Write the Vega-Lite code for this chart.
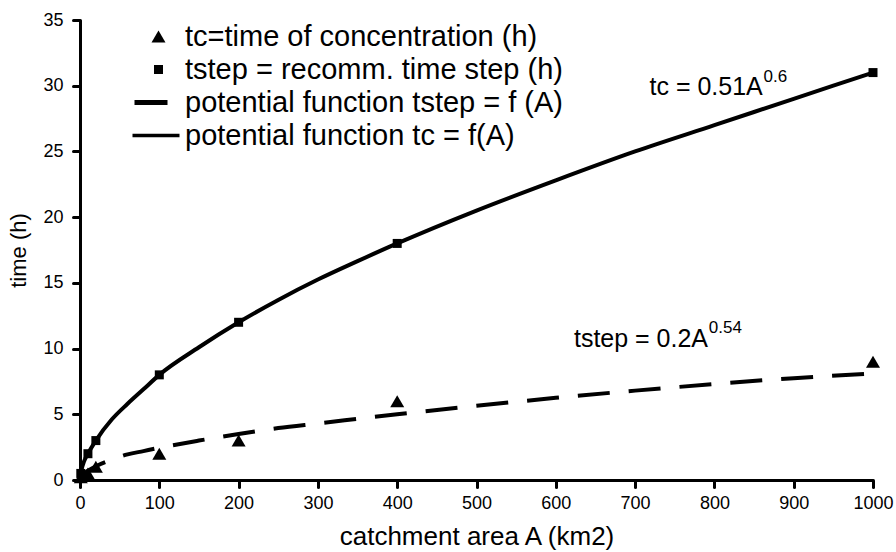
{
  "$schema": "https://vega.github.io/schema/vega-lite/v6.json",
  "width": 793,
  "height": 460,
  "autosize": {"type": "none"},
  "padding": {"left": 80, "top": 20, "right": 23, "bottom": 72},
  "background": "white",
  "config": {
    "font": "Liberation Sans",
    "view": {"stroke": null},
    "axis": {
      "domainColor": "black",
      "domainWidth": 3,
      "tickColor": "black",
      "tickWidth": 3,
      "tickSize": 7,
      "tickCap": "round",
      "labelColor": "black",
      "labelFont": "Liberation Sans",
      "labelFontSize": 18,
      "titleColor": "black",
      "titleFont": "Liberation Sans",
      "titleFontWeight": "normal",
      "grid": false
    },
    "legend": {
      "orient": "none",
      "legendX": 64,
      "legendY": 2,
      "padding": 0,
      "symbolSize": 400,
      "symbolStrokeWidth": 0,
      "symbolFillColor": "black",
      "labelFont": "Liberation Sans",
      "labelFontSize": 29,
      "labelColor": "black",
      "labelOffset": 12,
      "rowPadding": 3,
      "labelLimit": 0
    }
  },
  "datasets": {
    "obs": [
      {"A": 1, "t": 0.2, "series": "tc=time of concentration (h)"},
      {"A": 10, "t": 0.5, "series": "tc=time of concentration (h)"},
      {"A": 20, "t": 1, "series": "tc=time of concentration (h)"},
      {"A": 100, "t": 2, "series": "tc=time of concentration (h)"},
      {"A": 200, "t": 3, "series": "tc=time of concentration (h)"},
      {"A": 400, "t": 6, "series": "tc=time of concentration (h)"},
      {"A": 1000, "t": 9, "series": "tc=time of concentration (h)"},
      {"A": 1, "t": 0.5, "series": "tstep = recomm. time step (h)"},
      {"A": 10, "t": 2, "series": "tstep = recomm. time step (h)"},
      {"A": 20, "t": 3, "series": "tstep = recomm. time step (h)"},
      {"A": 100, "t": 8, "series": "tstep = recomm. time step (h)"},
      {"A": 200, "t": 12, "series": "tstep = recomm. time step (h)"},
      {"A": 400, "t": 18, "series": "tstep = recomm. time step (h)"},
      {"A": 1000, "t": 31, "series": "tstep = recomm. time step (h)"}
    ],
    "upper": [
      {"A": 0, "t": 0}, {"A": 1, "t": 0.5}, {"A": 2, "t": 0.8}, {"A": 5, "t": 1.4},
      {"A": 10, "t": 2.0}, {"A": 20, "t": 3.0}, {"A": 40, "t": 4.6}, {"A": 60, "t": 5.8},
      {"A": 80, "t": 6.9}, {"A": 100, "t": 8.0}, {"A": 150, "t": 10.1}, {"A": 200, "t": 12.0},
      {"A": 250, "t": 13.7}, {"A": 300, "t": 15.25}, {"A": 350, "t": 16.65}, {"A": 400, "t": 18.0},
      {"A": 500, "t": 20.5}, {"A": 600, "t": 22.8}, {"A": 700, "t": 25.0}, {"A": 800, "t": 27.0},
      {"A": 900, "t": 29.0}, {"A": 1000, "t": 31.0}
    ],
    "lower": [
      {"A": 0, "t": 0}, {"A": 1, "t": 0.2}, {"A": 5, "t": 0.5}, {"A": 10, "t": 0.7},
      {"A": 20, "t": 1.05}, {"A": 40, "t": 1.55}, {"A": 60, "t": 1.95}, {"A": 80, "t": 2.2},
      {"A": 100, "t": 2.45}, {"A": 150, "t": 3.0}, {"A": 200, "t": 3.5}, {"A": 250, "t": 3.95},
      {"A": 300, "t": 4.3}, {"A": 400, "t": 5.0}, {"A": 500, "t": 5.65}, {"A": 600, "t": 6.25},
      {"A": 700, "t": 6.8}, {"A": 800, "t": 7.3}, {"A": 900, "t": 7.75}, {"A": 1000, "t": 8.1}
    ],
    "eqMain": [
      {"A": 861, "t": 29.3, "label": "tc = 0.51A"},
      {"A": 792, "t": 10.1, "label": "tstep = 0.2A"}
    ],
    "eqExp": [
      {"A": 862, "t": 30.3, "label": "0.6"},
      {"A": 793, "t": 11.2, "label": "0.54"}
    ]
  },
  "encoding": {
    "x": {
      "field": "A", "type": "quantitative",
      "scale": {"domain": [0, 1000], "nice": false, "zero": false},
      "axis": {"values": [0,100,200,300,400,500,600,700,800,900,1000], "format": "d", "title": "catchment area A (km2)", "titleFontSize": 26, "labelPadding": 7, "titlePadding": 11, "labelFlush": false}
    },
    "y": {
      "field": "t", "type": "quantitative",
      "scale": {"domain": [0, 35], "nice": false},
      "axis": {"values": [0,5,10,15,20,25,30,35], "title": "time (h)", "titleFontSize": 22, "labelPadding": 10, "titlePadding": 12}
    }
  },
  "layer": [
    {
      "data": {"name": "lower"},
      "mark": {"type": "line", "color": "black", "strokeWidth": 4, "strokeDash": [32, 19], "interpolate": "monotone"}
    },
    {
      "data": {"name": "upper"},
      "mark": {"type": "line", "color": "black", "strokeWidth": 4, "interpolate": "monotone"}
    },
    {
      "data": {"name": "obs"},
      "mark": {"type": "point", "filled": true, "color": "black", "opacity": 1, "size": 400, "strokeWidth": 0},
      "encoding": {
        "shape": {
          "field": "series", "type": "nominal",
          "scale": {
            "domain": ["tc=time of concentration (h)", "tstep = recomm. time step (h)", "potential function tstep = f (A)", "potential function tc = f(A)"],
            "range": ["M0,-0.6L0.7,0.6L-0.7,0.6Z", "M-0.45,-0.45H0.45V0.45H-0.45Z", "M-2.4,-0.25H0.9V0.25H-2.4Z", "M-2.6,-0.17H2.1V0.17H-2.6Z"]
          },
          "legend": {"title": null}
        }
      }
    },
    {
      "data": {"name": "eqMain"},
      "mark": {"type": "text", "align": "right", "baseline": "alphabetic", "fontSize": 25, "color": "black"},
      "encoding": {"text": {"field": "label", "type": "nominal"}}
    },
    {
      "data": {"name": "eqExp"},
      "mark": {"type": "text", "align": "left", "baseline": "alphabetic", "fontSize": 17, "color": "black"},
      "encoding": {"text": {"field": "label", "type": "nominal"}}
    }
  ]
}
